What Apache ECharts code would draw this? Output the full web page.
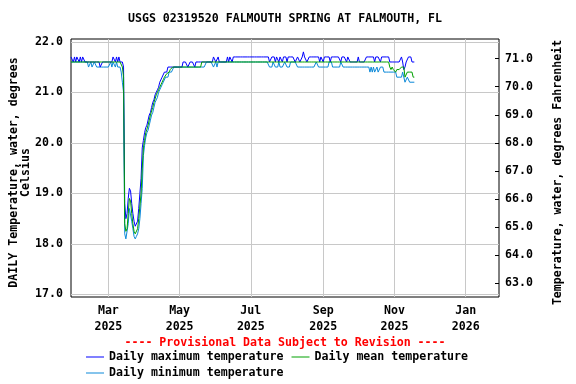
<!DOCTYPE html>
<html><head><meta charset="utf-8">
<script src="https://cdn.jsdelivr.net/npm/echarts@6/dist/echarts.min.js"></script>
<style>html,body{margin:0;padding:0;background:#fff}#c{width:576px;height:384px}</style>
</head><body><div id="c"></div>
<script>
// first day of record: 2025-01-28, one value per day
const startDate = '2025-01-28';
const dailyMax = [
21.7,21.7,21.6,21.7,21.6,21.7,21.7,21.6,21.7,21.6,
21.7,21.7,21.6,21.6,21.6,21.6,21.6,21.6,21.6,21.6,
21.6,21.6,21.6,21.6,21.6,21.5,21.5,21.6,21.6,21.6,
21.6,21.6,21.6,21.6,21.6,21.6,21.7,21.7,21.6,21.7,
21.6,21.7,21.6,21.6,21.6,21.5,18.8,18.5,18.6,18.9,
19.1,19.05,18.8,18.6,18.45,18.35,18.35,18.45,18.7,19.0,
19.3,19.9,20.05,20.2,20.3,20.35,20.45,20.55,20.6,20.7,
20.8,20.85,20.95,21.0,21.05,21.1,21.2,21.2,21.3,21.3,
21.4,21.4,21.4,21.5,21.5,21.5,21.5,21.5,21.5,21.5,
21.5,21.5,21.5,21.5,21.5,21.5,21.6,21.6,21.6,21.6,
21.5,21.5,21.6,21.6,21.6,21.6,21.5,21.6,21.6,21.6,
21.6,21.6,21.6,21.6,21.6,21.6,21.6,21.6,21.6,21.6,
21.6,21.6,21.7,21.7,21.6,21.6,21.7,21.6,21.6,21.6,
21.6,21.6,21.6,21.6,21.7,21.6,21.7,21.7,21.6,21.7,
21.7,21.7,21.7,21.7,21.7,21.7,21.7,21.7,21.7,21.7,
21.7,21.7,21.7,21.7,21.7,21.7,21.7,21.7,21.7,21.7,
21.7,21.7,21.7,21.7,21.7,21.7,21.7,21.7,21.7,21.7,
21.6,21.6,21.7,21.7,21.7,21.6,21.7,21.7,21.6,21.7,
21.7,21.6,21.7,21.7,21.7,21.6,21.7,21.7,21.7,21.7,
21.7,21.7,21.6,21.6,21.7,21.7,21.6,21.6,21.7,21.8,
21.7,21.7,21.6,21.6,21.7,21.7,21.7,21.7,21.7,21.7,
21.7,21.7,21.7,21.6,21.7,21.7,21.6,21.7,21.7,21.7,
21.7,21.7,21.6,21.7,21.7,21.7,21.7,21.7,21.7,21.7,
21.7,21.6,21.7,21.7,21.7,21.7,21.6,21.7,21.7,21.6,
21.6,21.6,21.6,21.6,21.6,21.6,21.7,21.6,21.6,21.6,
21.6,21.6,21.6,21.7,21.7,21.7,21.7,21.7,21.7,21.7,
21.6,21.7,21.7,21.7,21.7,21.6,21.7,21.7,21.7,21.7,
21.7,21.7,21.7,21.6,21.6,21.6,21.6,21.6,21.6,21.6,
21.6,21.6,21.6,21.7,21.6,21.45,21.5,21.6,21.6,21.7,
21.7,21.7,21.6,21.6,21.6
];
const dailyMean = [
21.6,21.6,21.6,21.6,21.6,21.6,21.6,21.6,21.6,21.6,
21.6,21.6,21.6,21.6,21.6,21.6,21.6,21.6,21.6,21.6,
21.6,21.6,21.6,21.6,21.6,21.6,21.6,21.6,21.6,21.6,
21.6,21.6,21.6,21.6,21.6,21.6,21.6,21.6,21.6,21.6,
21.6,21.6,21.6,21.6,21.5,21.3,18.4,18.25,18.3,18.6,
18.9,18.85,18.6,18.4,18.25,18.2,18.2,18.3,18.5,18.75,
19.0,19.5,19.9,20.05,20.2,20.27,20.35,20.45,20.55,20.63,
20.7,20.8,20.87,20.95,21.0,21.05,21.1,21.15,21.2,21.25,
21.3,21.33,21.37,21.4,21.4,21.45,21.45,21.5,21.5,21.5,
21.5,21.5,21.5,21.5,21.5,21.5,21.5,21.5,21.5,21.5,
21.5,21.5,21.5,21.5,21.5,21.5,21.5,21.5,21.5,21.5,
21.5,21.5,21.6,21.6,21.6,21.6,21.6,21.6,21.6,21.6,
21.6,21.6,21.6,21.6,21.6,21.6,21.6,21.6,21.6,21.6,
21.6,21.6,21.6,21.6,21.6,21.6,21.6,21.6,21.6,21.6,
21.6,21.6,21.6,21.6,21.6,21.6,21.6,21.6,21.6,21.6,
21.6,21.6,21.6,21.6,21.6,21.6,21.6,21.6,21.6,21.6,
21.6,21.6,21.6,21.6,21.6,21.6,21.6,21.6,21.6,21.6,
21.6,21.6,21.6,21.6,21.6,21.6,21.6,21.6,21.6,21.6,
21.6,21.6,21.6,21.6,21.6,21.6,21.6,21.6,21.6,21.6,
21.6,21.6,21.6,21.6,21.6,21.6,21.6,21.6,21.6,21.6,
21.6,21.6,21.6,21.6,21.6,21.6,21.6,21.6,21.6,21.6,
21.6,21.6,21.6,21.6,21.6,21.6,21.6,21.6,21.6,21.6,
21.6,21.6,21.6,21.6,21.6,21.6,21.6,21.6,21.6,21.6,
21.6,21.6,21.6,21.6,21.6,21.6,21.6,21.6,21.6,21.6,
21.6,21.6,21.6,21.6,21.6,21.6,21.6,21.6,21.6,21.6,
21.6,21.6,21.6,21.6,21.6,21.6,21.6,21.6,21.6,21.6,
21.6,21.6,21.6,21.6,21.6,21.6,21.6,21.6,21.6,21.6,
21.6,21.6,21.6,21.5,21.45,21.5,21.45,21.45,21.4,21.45,
21.45,21.45,21.45,21.5,21.5,21.5,21.3,21.3,21.4,21.4,
21.4,21.4,21.4,21.3,21.3
];
const dailyMin = [
21.6,21.6,21.6,21.6,21.6,21.6,21.6,21.6,21.6,21.6,
21.6,21.6,21.6,21.6,21.6,21.5,21.5,21.6,21.5,21.5,
21.6,21.6,21.5,21.5,21.5,21.5,21.5,21.5,21.5,21.5,
21.5,21.5,21.5,21.5,21.6,21.5,21.6,21.6,21.5,21.6,
21.5,21.5,21.5,21.4,21.2,21.0,18.2,18.1,18.1,18.4,
18.7,18.7,18.45,18.3,18.15,18.1,18.15,18.2,18.3,18.5,
18.8,19.1,19.75,19.95,20.1,20.2,20.25,20.35,20.45,20.55,
20.6,20.7,20.8,20.85,20.9,21.0,21.05,21.1,21.15,21.2,
21.2,21.3,21.3,21.3,21.4,21.4,21.4,21.4,21.5,21.5,
21.5,21.5,21.5,21.5,21.5,21.5,21.5,21.5,21.5,21.5,
21.5,21.5,21.5,21.5,21.5,21.5,21.5,21.5,21.5,21.5,
21.5,21.5,21.5,21.5,21.5,21.5,21.6,21.6,21.6,21.6,
21.6,21.6,21.5,21.5,21.6,21.5,21.6,21.6,21.6,21.6,
21.6,21.6,21.6,21.6,21.6,21.6,21.6,21.6,21.6,21.6,
21.6,21.6,21.6,21.6,21.6,21.6,21.6,21.6,21.6,21.6,
21.6,21.6,21.6,21.6,21.6,21.6,21.6,21.6,21.6,21.6,
21.6,21.6,21.6,21.6,21.6,21.6,21.6,21.6,21.6,21.6,
21.5,21.5,21.5,21.6,21.6,21.5,21.5,21.5,21.6,21.5,
21.5,21.5,21.5,21.6,21.6,21.5,21.5,21.5,21.6,21.6,
21.6,21.6,21.6,21.6,21.5,21.5,21.5,21.5,21.5,21.5,
21.5,21.5,21.5,21.5,21.5,21.5,21.5,21.5,21.5,21.5,
21.6,21.6,21.5,21.5,21.5,21.5,21.5,21.5,21.5,21.5,
21.5,21.6,21.6,21.6,21.5,21.5,21.5,21.5,21.5,21.5,
21.5,21.6,21.6,21.5,21.5,21.5,21.5,21.5,21.5,21.5,
21.5,21.5,21.5,21.5,21.5,21.5,21.5,21.5,21.5,21.5,
21.5,21.5,21.5,21.5,21.5,21.5,21.4,21.5,21.4,21.5,
21.4,21.4,21.5,21.4,21.4,21.5,21.5,21.5,21.4,21.4,
21.4,21.4,21.4,21.4,21.4,21.4,21.4,21.4,21.4,21.3,
21.3,21.3,21.3,21.3,21.4,21.4,21.2,21.2,21.3,21.3,
21.2,21.2,21.2,21.2,21.2
];
const xTickDates = ['2025-03-01','2025-05-01','2025-07-01','2025-09-01','2025-11-01','2026-01-01'];
const celsiusTicks = [17, 18, 19, 20, 21, 22];
const fahrenheitTicks = [63, 64, 65, 66, 67, 68, 69, 70, 71];
const monthNames = ['Jan','Feb','Mar','Apr','May','Jun','Jul','Aug','Sep','Oct','Nov','Dec'];
const seriesNames = ['Daily maximum temperature', 'Daily mean temperature', 'Daily minimum temperature'];

function parseDay(s, offset) {
  const p = s.split('-').map(Number);
  return new Date(p[0], p[1] - 1, p[2] + (offset || 0)).getTime();
}
function pairs(arr) { return arr.map((v, i) => [parseDay(startDate, i), v]); }

const FONT = '"DejaVu Sans Mono", monospace';
const FS = 11.6;
const txt = { fontFamily: FONT, fontWeight: 'bold', fontSize: FS, color: '#000' };
const cMin = 16.95, cMax = 22.055;
const toF = c => c * 1.8 + 32;
const C_MAX = '#0000ff', C_MEAN = '#00a000', C_MIN = '#0a88d8';
const xTickVals = xTickDates.map(s => parseDay(s));

const chart = echarts.init(document.getElementById('c'), null, { renderer: 'canvas' });
chart.setOption({
  animation: false,
  backgroundColor: '#fff',
  grid: { left: 71, top: 39, width: 428, height: 258, containLabel: false, outerBoundsMode: 'none', show: true, borderColor: '#000', borderWidth: 1, backgroundColor: '#fff' },
  graphic: [
    { type: 'text', x: 285, y: 19, style: { text: 'USGS 02319520 FALMOUTH SPRING AT FALMOUTH, FL', font: 'bold ' + FS + 'px ' + FONT, fill: '#000', align: 'center', verticalAlign: 'middle' } },
    { type: 'text', x: 285, y: 343, style: { text: '---- Provisional Data Subject to Revision ----', font: 'bold ' + FS + 'px ' + FONT, fill: '#ff0000', align: 'center', verticalAlign: 'middle' } }
  ],
  legend: [
    { data: [seriesNames[0], seriesNames[1]], left: 86, top: 350, padding: 0, itemWidth: 18, itemHeight: 1, itemGap: 8, icon: 'rect', selectedMode: false, textStyle: Object.assign({ lineHeight: 14 }, txt) },
    { data: [seriesNames[2]], left: 86, top: 366, padding: 0, itemWidth: 18, itemHeight: 1, itemGap: 8, icon: 'rect', selectedMode: false, textStyle: Object.assign({ lineHeight: 14 }, txt) }
  ],
  xAxis: {
    type: 'value',
    min: parseDay('2025-01-28'),
    max: parseDay('2026-01-29') + 12 * 3600 * 1000,
    axisLine: { show: false },
    axisTick: { show: false, customValues: xTickVals },
    axisLabel: Object.assign({
      customValues: xTickVals,
      margin: 6, lineHeight: 16,
      formatter: v => { const d = new Date(v); return monthNames[d.getMonth()] + '\n' + d.getFullYear(); }
    }, txt),
    splitLine: { show: true, lineStyle: { color: '#c8c8c8', width: 1 } }
  },
  yAxis: [
    {
      type: 'value', position: 'left', min: cMin, max: cMax,
      axisLine: { show: false },
      axisTick: { show: false, customValues: celsiusTicks },
      axisLabel: Object.assign({ customValues: celsiusTicks, margin: 8, formatter: v => v.toFixed(1) }, txt),
      splitLine: { show: true, lineStyle: { color: '#c8c8c8', width: 1 } },
      name: 'DAILY Temperature, water, degrees\nCelsius',
      nameLocation: 'middle', nameGap: 39, nameMoveOverlap: false,
      nameTextStyle: Object.assign({ lineHeight: 12, padding: [0, 9, 0, 0] }, txt)
    },
    {
      type: 'value', position: 'right', min: toF(cMin), max: toF(cMax),
      axisLine: { show: false },
      axisTick: { show: true, inside: true, length: 4, customValues: fahrenheitTicks, lineStyle: { color: '#000' } },
      axisLabel: Object.assign({ customValues: fahrenheitTicks, margin: 6, formatter: v => v.toFixed(1) }, txt),
      splitLine: { show: false },
      name: 'Temperature, water, degrees Fahrenheit',
      nameLocation: 'middle', nameGap: 53, nameMoveOverlap: false,
      nameTextStyle: Object.assign({ padding: [0, 9, 0, 0] }, txt)
    }
  ],
  series: [
    { name: seriesNames[2], type: 'line', data: pairs(dailyMin), showSymbol: false, symbol: 'none', lineStyle: { width: 1, color: C_MIN }, itemStyle: { color: C_MIN }, z: 2 },
    { name: seriesNames[0], type: 'line', data: pairs(dailyMax), showSymbol: false, symbol: 'none', lineStyle: { width: 1, color: C_MAX }, itemStyle: { color: C_MAX }, z: 3 },
    { name: seriesNames[1], type: 'line', data: pairs(dailyMean), showSymbol: false, symbol: 'none', lineStyle: { width: 1, color: C_MEAN }, itemStyle: { color: C_MEAN }, z: 4 }
  ]
});
</script></body></html>
